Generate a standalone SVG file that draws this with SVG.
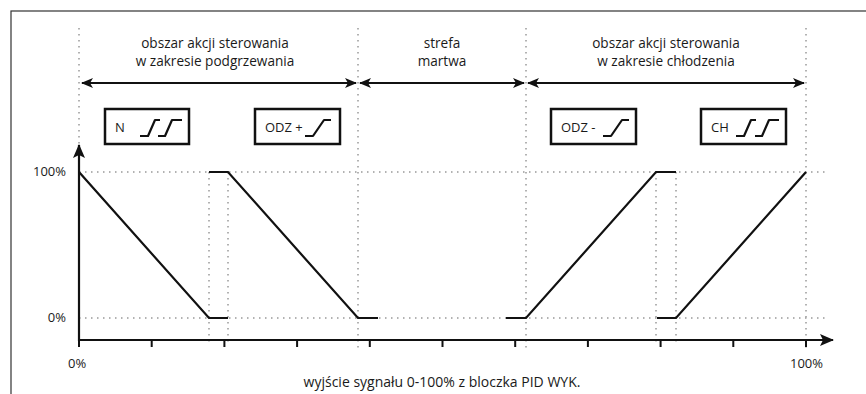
<svg xmlns="http://www.w3.org/2000/svg" width="866" height="394" viewBox="0 0 866 394">
<style>
.t{font-family:"Open Sans","Noto Sans","DejaVu Sans",sans-serif;font-size:13px;fill:#1a1a1a}
.h{font-size:13.6px}
.b{font-size:14px}
.c{text-anchor:middle}
.e{text-anchor:end}
.dot{stroke:#999;stroke-width:1.5;stroke-dasharray:1.5 4.5;fill:none}
.ln{stroke:#111;stroke-width:2.2;fill:none}
.box{stroke:#111;stroke-width:2.5;fill:#fff}
.sym{stroke:#111;stroke-width:2.2;fill:none;stroke-linejoin:round}
.tick{stroke:#111;stroke-width:2}
</style>
<defs>
<marker id="ah" viewBox="0 0 12 10" refX="11" refY="5" markerWidth="12" markerHeight="10" markerUnits="userSpaceOnUse" orient="auto-start-reverse">
<path d="M0,0 L12,5 L0,10 L3,5 Z" fill="#111"/>
</marker>
<marker id="ah2" viewBox="0 0 14 12" refX="13" refY="6" markerWidth="14" markerHeight="12" markerUnits="userSpaceOnUse" orient="auto">
<path d="M0,0 L14,6 L0,12 L3,6 Z" fill="#111"/>
</marker>
</defs>
<rect x="11" y="11" width="900" height="420" fill="#fff" stroke="#333" stroke-width="1.2"/>
<g id="gridlines">
<line class="dot" x1="79" y1="28" x2="79" y2="148"/>
<line class="dot" x1="358" y1="28" x2="358" y2="348"/>
<line class="dot" x1="526" y1="28" x2="526" y2="348"/>
<line class="dot" x1="806" y1="28" x2="806" y2="348"/>
<line class="dot" x1="209" y1="172" x2="209" y2="345"/>
<line class="dot" x1="228" y1="172" x2="228" y2="345"/>
<line class="dot" x1="656" y1="172" x2="656" y2="345"/>
<line class="dot" x1="676" y1="172" x2="676" y2="345"/>
<line class="dot" x1="79" y1="172" x2="826" y2="172"/>
<line class="dot" x1="79" y1="318" x2="826" y2="318"/>
</g>
<g id="labels">
<text class="t h c" x="215" y="48">obszar akcji sterowania</text>
<text class="t h c" x="215" y="66">w zakresie podgrzewania</text>
<text class="t h c" x="442" y="48">strefa</text>
<text class="t h c" x="442" y="66">martwa</text>
<text class="t h c" x="666" y="48">obszar akcji sterowania</text>
<text class="t h c" x="666" y="66">w zakresie chłodzenia</text>
<text class="t e" x="66" y="176">100%</text>
<text class="t e" x="66" y="322">0%</text>
<text class="t" x="68" y="368">0%</text>
<text class="t" x="790" y="368">100%</text>
<text class="t b c" x="442" y="387">wyjście sygnału 0-100% z bloczka PID WYK.</text>
</g>
<g id="connectors">
<line class="ln" x1="82" y1="83" x2="356" y2="83" marker-start="url(#ah)" marker-end="url(#ah)"/>
<line class="ln" x1="360" y1="83" x2="524" y2="83" marker-start="url(#ah)" marker-end="url(#ah)"/>
<line class="ln" x1="528" y1="83" x2="804" y2="83" marker-start="url(#ah)" marker-end="url(#ah)"/>
</g>
<g id="axes">
<line class="ln" x1="79" y1="341" x2="79" y2="145" marker-end="url(#ah2)"/>
<line class="ln" x1="78" y1="340" x2="833" y2="340" marker-end="url(#ah2)"/>
<path class="tick" d="M79,340V347M151.7,340V347M224.4,340V347M297.1,340V347M369.8,340V347M442.5,340V347M515.2,340V347M587.9,340V347M660.6,340V347M733.3,340V347M806,340V347"/>
</g>
<g id="curves">
<path class="ln" d="M79,172 L209,318 H228"/>
<path class="ln" d="M209,172 H228 L358,318 H378"/>
<path class="ln" d="M506,318 H526 L656,172 H676"/>
<path class="ln" d="M657,318 H676 L806,172"/>
</g>
<g id="node-N">
<rect class="box" x="105" y="109" width="84" height="35"/>
<text class="t" x="115" y="132">N</text>
<path class="sym" d="M140,136 H148 L155,120 H160 M158,136 H165 L172,120 H182"/>
</g>
<g id="node-ODZplus">
<rect class="box" x="255" y="109" width="85" height="35"/>
<text class="t" x="265" y="132">ODZ +</text>
<path class="sym" d="M305,136 H313 L324,120 H331"/>
</g>
<g id="node-ODZminus">
<rect class="box" x="551" y="109" width="85" height="35"/>
<text class="t" x="561" y="132">ODZ -</text>
<path class="sym" d="M603,136 H611 L622,120 H629"/>
</g>
<g id="node-CH">
<rect class="box" x="701" y="109" width="85" height="35"/>
<text class="t" x="711" y="132">CH</text>
<path class="sym" d="M736,136 H744 L751,120 H756 M755,136 H762 L769,120 H779"/>
</g>
</svg>
